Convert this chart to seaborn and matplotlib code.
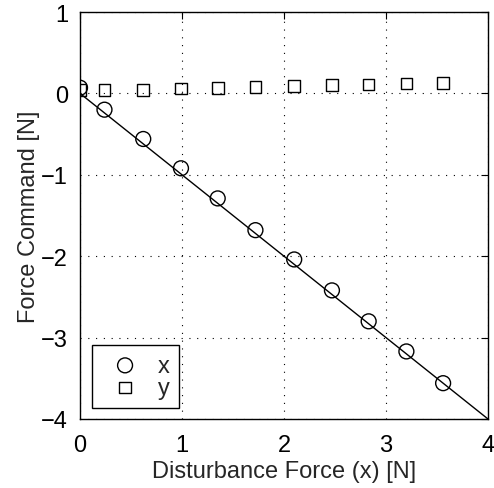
import matplotlib
matplotlib.use("Agg")
import matplotlib.pyplot as plt
import seaborn as sns
import pandas as pd

# Data
dist_x = [0.0, 0.24, 0.62, 0.99, 1.35, 1.72, 2.10, 2.47, 2.83, 3.20, 3.56]
cmd_x = [0.07, -0.20, -0.56, -0.92, -1.29, -1.68, -2.04, -2.42, -2.80, -3.17, -3.56]
cmd_y = [0.04, 0.04, 0.04, 0.06, 0.07, 0.08, 0.09, 0.10, 0.11, 0.12, 0.13]
line_x = [0.0, 4.0]
line_y = [0.0, -4.0]
xticks = [0, 1, 2, 3, 4]
yticks = [-4, -3, -2, -1, 0, 1]

sns.set_style("white")
plt.rcParams['font.family'] = ['Liberation Sans', 'DejaVu Sans']
plt.rcParams['axes.unicode_minus'] = True

FS = 17

fig = plt.figure(figsize=(4.94, 4.89), dpi=100)
ax = fig.add_axes([80/494, 69/489, 408/494, 407/489])

df = pd.DataFrame({"dx": dist_x, "cx": cmd_x, "cy": cmd_y})
sns.lineplot(x=line_x, y=line_y, ax=ax, color="black", linewidth=1.0, zorder=2)
sns.scatterplot(data=df, x="dx", y="cx", ax=ax, marker="o", s=115,
                facecolor="none", edgecolor="black", linewidth=1.0, label="x", zorder=3)
sns.scatterplot(data=df, x="dx", y="cy", ax=ax, marker="s", s=70,
                facecolor="none", edgecolor="black", linewidth=1.0, label="y", zorder=3)

ax.set_xlim(0, 4)
ax.set_ylim(-4, 1)
ax.set_xticks(xticks)
ax.set_yticks(yticks)
ax.grid(True, color="black", linestyle=(0, (1, 6)), linewidth=0.8)
ax.tick_params(direction="in", top=True, right=True, length=5, width=0.8,
               labelsize=FS, colors="black")
ax.tick_params(axis="x", pad=10.5)
ax.tick_params(axis="y", pad=8.5)
for s in ax.spines.values():
    s.set_color("black")
    s.set_linewidth(1.0)
ax.set_xlabel("Disturbance Force (x) [N]", fontsize=FS, labelpad=3)
ax.set_ylabel("Force Command [N]", fontsize=FS, labelpad=1)

leg = ax.legend(loc="lower left", bbox_to_anchor=(12/408, 11/407), fontsize=FS,
                frameon=True, fancybox=False, edgecolor="black", framealpha=1,
                handlelength=2.0, handletextpad=0.4, borderpad=0.4, labelspacing=0.0,
                borderaxespad=0)
leg.get_frame().set_linewidth(1.0)

fig.savefig("out.png", dpi=100)
